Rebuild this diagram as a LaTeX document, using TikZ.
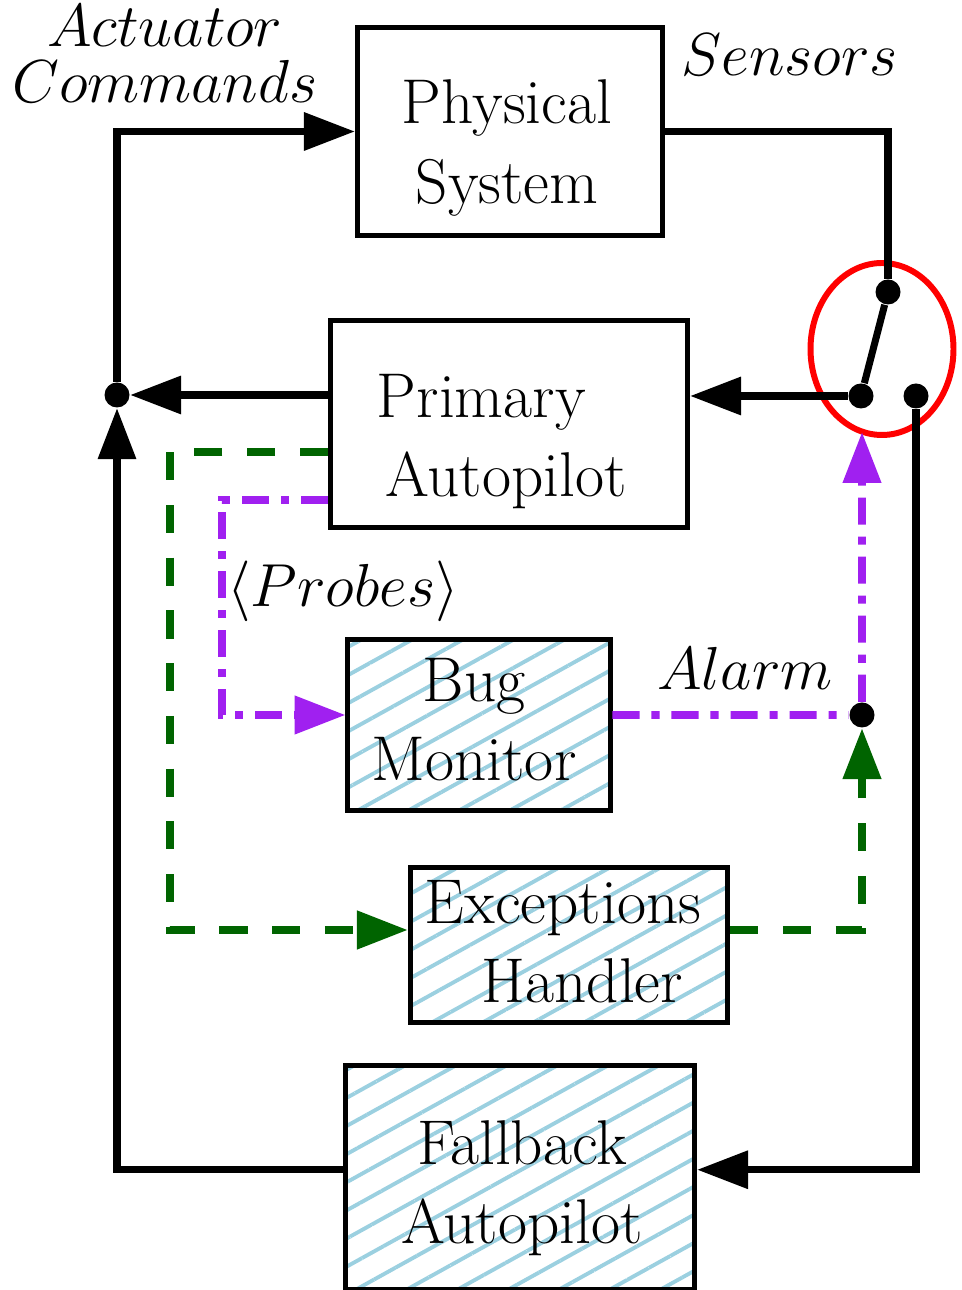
\documentclass[tikz,border=0pt]{standalone}
\usetikzlibrary{arrows.meta,patterns.meta}
\definecolor{hatchblue}{RGB}{155,208,224}
\definecolor{probecol}{RGB}{160,32,240}
\definecolor{handcol}{RGB}{0,100,0}

\begin{document}
\begin{tikzpicture}[
  >={Triangle[length=14.5pt,width=10.5pt]},
  block/.style={rectangle,draw,line width=1.5pt},
  hatched/.style={pattern={Lines[angle=29,distance=7pt,line width=1.1pt]},pattern color=hatchblue},
  blocktext/.style={align=center,inner sep=0pt,font=\fontsize{18}{22.5}\selectfont},
  sig/.style={align=center,inner sep=0pt,font=\fontsize{16.5}{16}\selectfont},
  wire/.style={line width=2pt},
  probe/.style={draw=probecol,line width=2.2pt,dash pattern=on 7.7pt off 3.4pt on 2.3pt off 3.4pt},
  handler/.style={draw=handcol,line width=2.3pt,dash pattern=on 8pt off 7pt},
  dot/.style={circle,fill,inner sep=0pt,minimum size=0.25cm}]
  \useasboundingbox (0,0) rectangle (9.61,12.9);
  % draw physical system
  \node at(5.10,11.585)[block,minimum width=3.05cm,minimum height=2.08cm](phys){};
  \node at(5.07,11.42)[blocktext](physlbl){Physical\\System};
  % draw primary autopilot
  \node at(5.09,8.66)[block,minimum width=3.57cm,minimum height=2.07cm](prim){};
  \node at(5.06,8.48)[blocktext](primlbl){Primary\hspace*{14pt}\\Autopilot};
  % draw bug monitor
  \node at(4.79,5.65)[block,hatched,minimum width=2.63cm,minimum height=1.71cm](bug){};
  \node at(4.74,5.70)[blocktext](buglbl){Bug\\Monitor};
  % draw exceptions handler
  \node at(5.69,3.45)[block,hatched,minimum width=3.17cm,minimum height=1.55cm](exc){};
  \node at(5.63,3.48)[blocktext](exclbl){Exceptions\\\hspace*{11pt}Handler};
  % draw fallback autopilot
  \node at(5.20,1.1225)[block,hatched,minimum width=3.49cm,minimum height=2.245cm](fall){};
  \node at(5.22,1.02)[blocktext](falllbl){Fallback\\Autopilot};
  % draw signal names
  \node at(1.65,12.36)[sig](act){$Actuator$\\$Commands$};
  \node at(7.90,12.35)[sig](sens){$Sensors$};
  \node at(3.43,6.99)[sig](probes){$\langle Probes\rangle$};
  \node at(7.45,6.22)[sig](alarmlbl){$Alarm$};
  % draw switch ring
  \draw[red,line width=1.7pt](8.82,9.41) ellipse[x radius=0.715,y radius=0.86];
  % draw junction and switch contacts
  \node at(1.17,8.95)[dot](junc){};
  \node at(8.88,9.98)[dot](swtop){};
  \node at(8.61,8.94)[dot](swa){};
  \node at(9.16,8.94)[dot](swb){};
  \node at(8.62,5.75)[dot](alarm){};
  % draw actuator command loop
  \draw[wire,->](junc) |- (phys.west);
  \draw[wire,->](prim.west |- junc) -- (junc);
  \draw[wire,->]([yshift=0.08cm]fall.west) -| (junc);
  % draw sensor line and switch
  \draw[wire](phys.east) -| (swtop);
  \draw[wire](swtop) -- (swa);
  \draw[wire,->](swa) -- (prim.east |- swa);
  \draw[wire,->](swb) |- ([yshift=0.08cm]fall.east);
  % draw probes and alarm
  \coordinate (pcorner) at (2.22,7.90);
  \coordinate (swin) at (8.62,8.58);
  \draw[probe,->](prim.west |- pcorner) -- (pcorner) |- ([yshift=0.1cm]bug.west);
  \draw[probe,->]([yshift=0.1cm]bug.east) -- (alarm) -- (swin);
  % draw exceptions path
  \coordinate (gcorner) at (1.70,8.38);
  \draw[handler,->](prim.west |- gcorner) -- (gcorner) |- ([yshift=0.15cm]exc.west);
  \draw[handler,->]([yshift=0.15cm]exc.east) -| (alarm);
\end{tikzpicture}
\end{document}
